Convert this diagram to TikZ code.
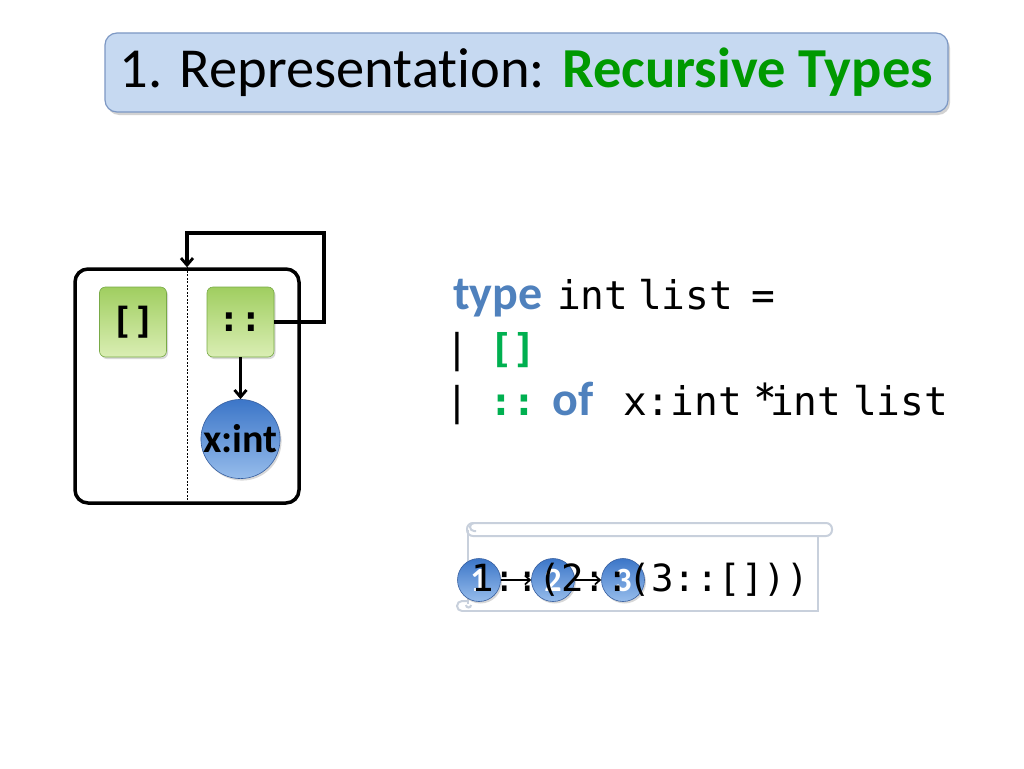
\documentclass[tikz,border=0pt]{standalone}
\usepackage{fontspec}
\setmainfont{Carlito}[Ligatures=NoCommon]
\setmonofont{DejaVu Sans Mono}
\usetikzlibrary{shadows,arrows.meta}
\definecolor{titlefill}{RGB}{198,217,241}
\definecolor{titleborder}{RGB}{125,152,196}
\definecolor{titlegreen}{RGB}{0,153,0}
\definecolor{kwblue}{RGB}{79,129,189}
\definecolor{cgreen}{RGB}{0,176,80}
\definecolor{gtop}{RGB}{160,206,96}
\definecolor{gbot}{RGB}{218,238,180}
\definecolor{gborder}{RGB}{120,170,70}
\definecolor{btop}{RGB}{60,118,200}
\definecolor{bbot}{RGB}{150,188,235}
\definecolor{bborder}{RGB}{55,95,160}
\definecolor{scroll}{RGB}{200,208,220}
\tikzset{
  titlebox/.style={draw=titleborder, line width=1.2pt, fill=titlefill, rounded corners=12pt,
    minimum width=843pt, minimum height=79pt, inner sep=0pt,
    drop shadow={shadow xshift=2pt, shadow yshift=-3pt, opacity=0.35}},
  ctorbox/.style={draw=gborder, line width=0.6pt, top color=gtop, bottom color=gbot, rounded corners=6pt,
    minimum width=67pt, minimum height=70pt, inner sep=0pt,
    drop shadow={shadow xshift=1.5pt, shadow yshift=-2pt, opacity=0.3},
    font=\fontsize{36}{38}\selectfont\ttfamily\bfseries},
  ball/.style={circle, draw=bborder, line width=0.6pt, top color=btop, bottom color=bbot, inner sep=0pt,
    drop shadow={shadow xshift=1.5pt, shadow yshift=-2pt, opacity=0.3}},
  wire/.style={line width=3.3pt, -{Straight Barb[length=7pt,width=12pt,line width=2.8pt]}},
  thinwire/.style={line width=1.9pt, -{Straight Barb[length=5pt,width=9pt,line width=1.7pt]}},
  code/.style={anchor=base west, inner sep=0pt, font=\fontsize{39.5}{44}\selectfont\ttfamily},
  gcode/.style={code, text=cgreen, font=\fontsize{39.5}{44}\selectfont\ttfamily\bfseries},
  kw/.style={anchor=base west, inner sep=0pt, font=\fontsize{48}{50}\selectfont\bfseries, text=kwblue},
  scrollline/.style={draw=scroll, line width=2pt},
  numball/.style={ball, minimum size=43pt, font=\fontsize{34}{36}\selectfont\bfseries, text=white},
}
\begin{document}
\begin{tikzpicture}[x=1pt,y=-1pt]
\useasboundingbox[fill=white] (0,0) rectangle (1024,768);

% title
\node[titlebox, font=\fontsize{56.5}{60}\selectfont] (title) at (526.5,72.5)
  {1. Representation: {\bfseries\color{titlegreen}Recursive Types}};

% left diagram
\node[draw, line width=3.5pt, rounded corners=13pt, minimum width=224pt, minimum height=234pt, inner sep=0pt] (outer) at (187,386) {};
\draw[line width=0.7pt, dash pattern=on 2pt off 1.5pt] (outer.north) -- (outer.south);
\node[ctorbox] (nil) at (133,322) {[]};
\node[ctorbox] (cons) at (240.5,322) {::};
\node[ball, minimum size=77pt, font=\fontsize{40}{42}\selectfont\bfseries] (xint) at (240.5,439) {x:int};
\draw[wire] (cons.south) -- (xint.north);
\coordinate (loopR) at (324,233);
\draw[wire] (cons.east) -| (loopR) -| (outer.north);

% code
\node[kw] (type) at (453,309) {type};
\node[code] (l1a) at (557,309) {int};
\node[code] (l1b) at (638,309) {list};
\node[code] (l1c) at (751,309) {=};
\node[code] (bar1) at (445,362) {|};
\node[gcode] (nilc) at (489,362) {[]};
\node[code] (bar2) at (445,415) {|};
\node[gcode] (consc) at (489,415) {::};
\node[kw] (of) at (552,415) {of};
\node[code] (l3a) at (623,415) {x:int};
\node[anchor=base west, inner sep=0pt, font=\fontsize{60}{62}\selectfont] (star) at (750,415) {\raisebox{-10pt}{*}};
\node[code] (l3b) at (770,415) {int};
\node[code] (l3c) at (853,415) {list};

% scroll
\draw[scrollline, rounded corners=6pt] (467,523) rectangle (832,536);
\draw[scrollline] (468,530) -- (468,604);
\draw[scrollline] (818,536) -- (818,611) -- (462,611);
\draw[scrollline] (474,523) arc[start angle=90, end angle=270, radius=4pt] -- (476,531);
\draw[scrollline] (462,611) arc[start angle=270, end angle=90, radius=5pt] -- (468,601);
\draw[scrollline] (466,605) arc[start angle=180, end angle=360, radius=2.5pt];

\node[numball] (c1) at (479,580) {1};
\node[numball] (c2) at (553,580) {2};
\node[numball] (c3) at (623,580) {3};
\draw[thinwire] (c1) -- (c2);
\draw[thinwire] (c2) -- (c3);
\node[code, font=\fontsize{37.4}{40}\selectfont\ttfamily] (expr) at (471,591) {1::(2::(3::[]))};
\end{tikzpicture}
\end{document}
